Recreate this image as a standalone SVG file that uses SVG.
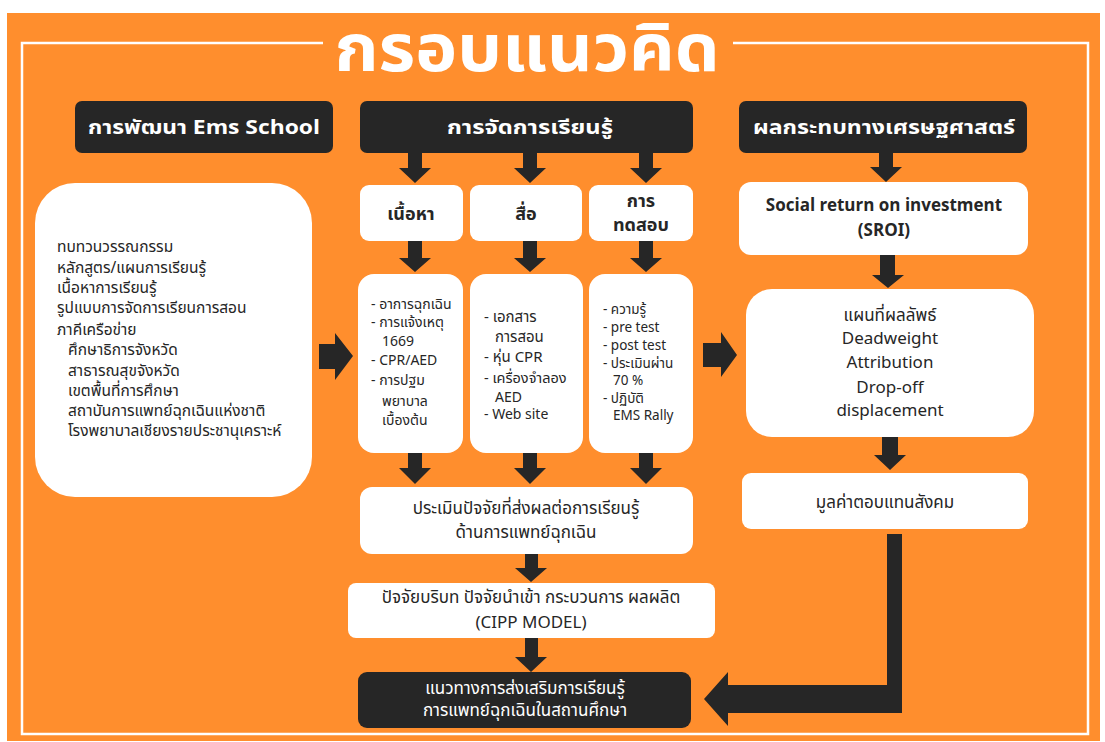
<svg xmlns="http://www.w3.org/2000/svg" width="1105" height="742" viewBox="0 0 1105 742">
<defs>
<style>
.bg{fill:#FF8E2D}
.dark{fill:#262626}
.wb{fill:#FFFFFF}
.frame{fill:none;stroke:#FFFFFF;stroke-width:2.5}
text{font-family:"Noto Sans Thai","Noto Sans","DejaVu Sans",sans-serif}
.title{font-size:66px;font-weight:bold;fill:#FFFFFF}
.hd{font-size:20px;font-weight:bold;fill:#FFFFFF;text-anchor:middle}
.sub{font-size:18px;font-weight:bold;fill:#262626;text-anchor:middle}
.t{font-size:15.5px;fill:#262626}
.tc{font-size:17px;fill:#262626;text-anchor:middle}
.tw{font-size:17px;fill:#FFFFFF;text-anchor:middle}
.s{font-size:14px;fill:#262626}
.arr{fill:#262626}
</style>
</defs>
<rect class="bg" x="7" y="13" width="1093" height="728"/>
<path class="frame" d="M323 43 H22 V734 H1088 V43 H733"/>
<text class="title" x="527" y="71" text-anchor="middle" textLength="385" lengthAdjust="spacingAndGlyphs">กรอบแนวคิด</text>

<g id="hdr-ems">
<rect class="dark" x="75" y="101" width="258" height="52" rx="7"/>
<text class="hd" x="204" y="134" textLength="232" lengthAdjust="spacingAndGlyphs">การพัฒนา Ems School</text>
</g>
<g id="hdr-learn">
<rect class="dark" x="360" y="101" width="333" height="52" rx="7"/>
<text class="hd" x="530" y="134" textLength="166" lengthAdjust="spacingAndGlyphs">การจัดการเรียนรู้</text>
</g>
<g id="hdr-econ">
<rect class="dark" x="739" y="101" width="288" height="52" rx="7"/>
<text class="hd" x="884" y="134" textLength="262" lengthAdjust="spacingAndGlyphs">ผลกระทบทางเศรษฐศาสตร์</text>
</g>

<g id="left-box">
<rect class="wb" x="35" y="183" width="277" height="314" rx="40"/>
<text class="t" x="57" y="252">ทบทวนวรรณกรรม</text>
<text class="t" x="57" y="273">หลักสูตร/แผนการเรียนรู้</text>
<text class="t" x="57" y="293">เนื้อหาการเรียนรู้</text>
<text class="t" x="57" y="313">รูปแบบการจัดการเรียนการสอน</text>
<text class="t" x="57" y="335">ภาคีเครือข่าย</text>
<text class="t" x="68" y="355">ศึกษาธิการจังหวัด</text>
<text class="t" x="68" y="376">สาธารณสุขจังหวัด</text>
<text class="t" x="68" y="396">เขตพื้นที่การศึกษา</text>
<text class="t" x="68" y="416">สถาบันการแพทย์ฉุกเฉินแห่งชาติ</text>
<text class="t" x="68" y="436">โรงพยาบาลเชียงรายประชานุเคราะห์</text>
</g>

<g id="box-content">
<rect class="wb" x="360" y="185" width="103" height="56" rx="9"/>
<text class="sub" x="411" y="220">เนื้อหา</text>
</g>
<g id="box-media">
<rect class="wb" x="470" y="185" width="112" height="56" rx="9"/>
<text class="sub" x="526" y="220">สื่อ</text>
</g>
<g id="box-test">
<rect class="wb" x="589" y="185" width="104" height="56" rx="9"/>
<text class="sub" x="641" y="207">การ</text>
<text class="sub" x="641" y="231">ทดสอบ</text>
</g>

<g id="detail-content">
<rect class="wb" x="358" y="274" width="105" height="179" rx="16"/>
<text class="s" x="371" y="309">- อาการฉุกเฉิน</text>
<text class="s" x="371" y="327">- การแจ้งเหตุ</text>
<text class="s" x="382" y="346">1669</text>
<text class="s" x="371" y="365">- CPR/AED</text>
<text class="s" x="371" y="385">- การปฐม</text>
<text class="s" x="382" y="406">พยาบาล</text>
<text class="s" x="382" y="425">เบื้องต้น</text>
</g>
<g id="detail-media">
<rect class="wb" x="470" y="274" width="113" height="179" rx="16"/>
<text class="s" x="484" y="322" style="font-size:15px">- เอกสาร</text>
<text class="s" x="495" y="342" style="font-size:15px">การสอน</text>
<text class="s" x="484" y="362" style="font-size:15px">- หุ่น CPR</text>
<text class="s" x="484" y="383" style="font-size:14.5px">- เครื่องจำลอง</text>
<text class="s" x="495" y="402">AED</text>
<text class="s" x="484" y="419">- Web site</text>
</g>
<g id="detail-test">
<rect class="wb" x="589" y="274" width="104" height="179" rx="16"/>
<text class="s" x="603" y="314" style="font-size:13.5px">- ความรู้</text>
<text class="s" x="603" y="332" style="font-size:13.5px">- pre test</text>
<text class="s" x="603" y="350" style="font-size:13.5px">- post test</text>
<text class="s" x="603" y="368" style="font-size:13.5px">- ประเมินผ่าน</text>
<text class="s" x="613" y="385" style="font-size:13.5px">70 %</text>
<text class="s" x="603" y="403" style="font-size:13.5px">- ปฏิบัติ</text>
<text class="s" x="613" y="420" style="font-size:13.5px">EMS Rally</text>
</g>

<g id="box-assess">
<rect class="wb" x="360" y="487" width="333" height="67" rx="12"/>
<text class="tc" x="526" y="514">ประเมินปัจจัยที่ส่งผลต่อการเรียนรู้</text>
<text class="tc" x="526" y="538">ด้านการแพทย์ฉุกเฉิน</text>
</g>
<g id="box-cipp">
<rect class="wb" x="348" y="583" width="367" height="55" rx="8"/>
<text class="tc" x="531" y="603">ปัจจัยบริบท ปัจจัยนำเข้า กระบวนการ ผลผลิต</text>
<text class="tc" x="531" y="628">(CIPP MODEL)</text>
</g>
<g id="box-final">
<rect class="dark" x="358" y="672" width="333" height="56" rx="9"/>
<text class="tw" x="525" y="694">แนวทางการส่งเสริมการเรียนรู้</text>
<text class="tw" x="525" y="716">การแพทย์ฉุกเฉินในสถานศึกษา</text>
</g>

<g id="box-sroi">
<rect class="wb" x="739" y="182" width="289" height="73" rx="12"/>
<text class="tc" x="884" y="211" style="font-weight:bold">Social return on investment</text>
<text class="tc" x="884" y="236" style="font-weight:bold">(SROI)</text>
</g>
<g id="box-map">
<rect class="wb" x="746" y="289" width="288" height="148" rx="26"/>
<text class="tc" x="890" y="321">แผนที่ผลลัพธ์</text>
<text class="tc" x="890" y="344">Deadweight</text>
<text class="tc" x="890" y="368">Attribution</text>
<text class="tc" x="890" y="393">Drop-off</text>
<text class="tc" x="890" y="416">displacement</text>
</g>
<g id="box-value">
<rect class="wb" x="742" y="473" width="286" height="56" rx="9"/>
<text class="tc" x="885" y="508">มูลค่าตอบแทนสังคม</text>
</g>

<g id="connectors">
<polygon class="arr" points="408,153 422,153 422,168 431,168 415,183 399,168 408,168"/>
<polygon class="arr" points="523,153 537,153 537,168 546,168 530,183 514,168 523,168"/>
<polygon class="arr" points="639,153 653,153 653,168 662,168 646,183 630,168 639,168"/>
<polygon class="arr" points="408,241 422,241 422,258 431,258 415,272 399,258 408,258"/>
<polygon class="arr" points="523,241 537,241 537,258 546,258 530,272 514,258 523,258"/>
<polygon class="arr" points="639,241 653,241 653,258 662,258 646,272 630,258 639,258"/>
<polygon class="arr" points="408,453 422,453 422,468 431,468 415,484 399,468 408,468"/>
<polygon class="arr" points="523,453 537,453 537,468 546,468 530,484 514,468 523,468"/>
<polygon class="arr" points="639,453 653,453 653,468 662,468 646,484 630,468 639,468"/>
<polygon class="arr" points="525,554 538,554 538,568 547,568 531,582 515,568 525,568"/>
<polygon class="arr" points="525,638 538,638 538,657 547,657 531,672 515,657 525,657"/>
<polygon class="arr" points="319,344 335,344 335,333 353,356 335,380 335,369 319,369"/>
<polygon class="arr" points="703,343 721,343 721,332 737,355 721,377 721,367 703,367"/>
<polygon class="arr" points="879,153 893,153 893,167 902,167 886,182 870,167 879,167"/>
<polygon class="arr" points="880,255 895,255 895,275 904,275 888,288 872,275 880,275"/>
<polygon class="arr" points="882,437 898,437 898,455 906,455 890,470 874,455 882,455"/>
<polygon class="arr" points="887,534 902,534 902,713 728,713 728,726 704,699 728,672 728,685 887,685"/>
</g>
</svg>
